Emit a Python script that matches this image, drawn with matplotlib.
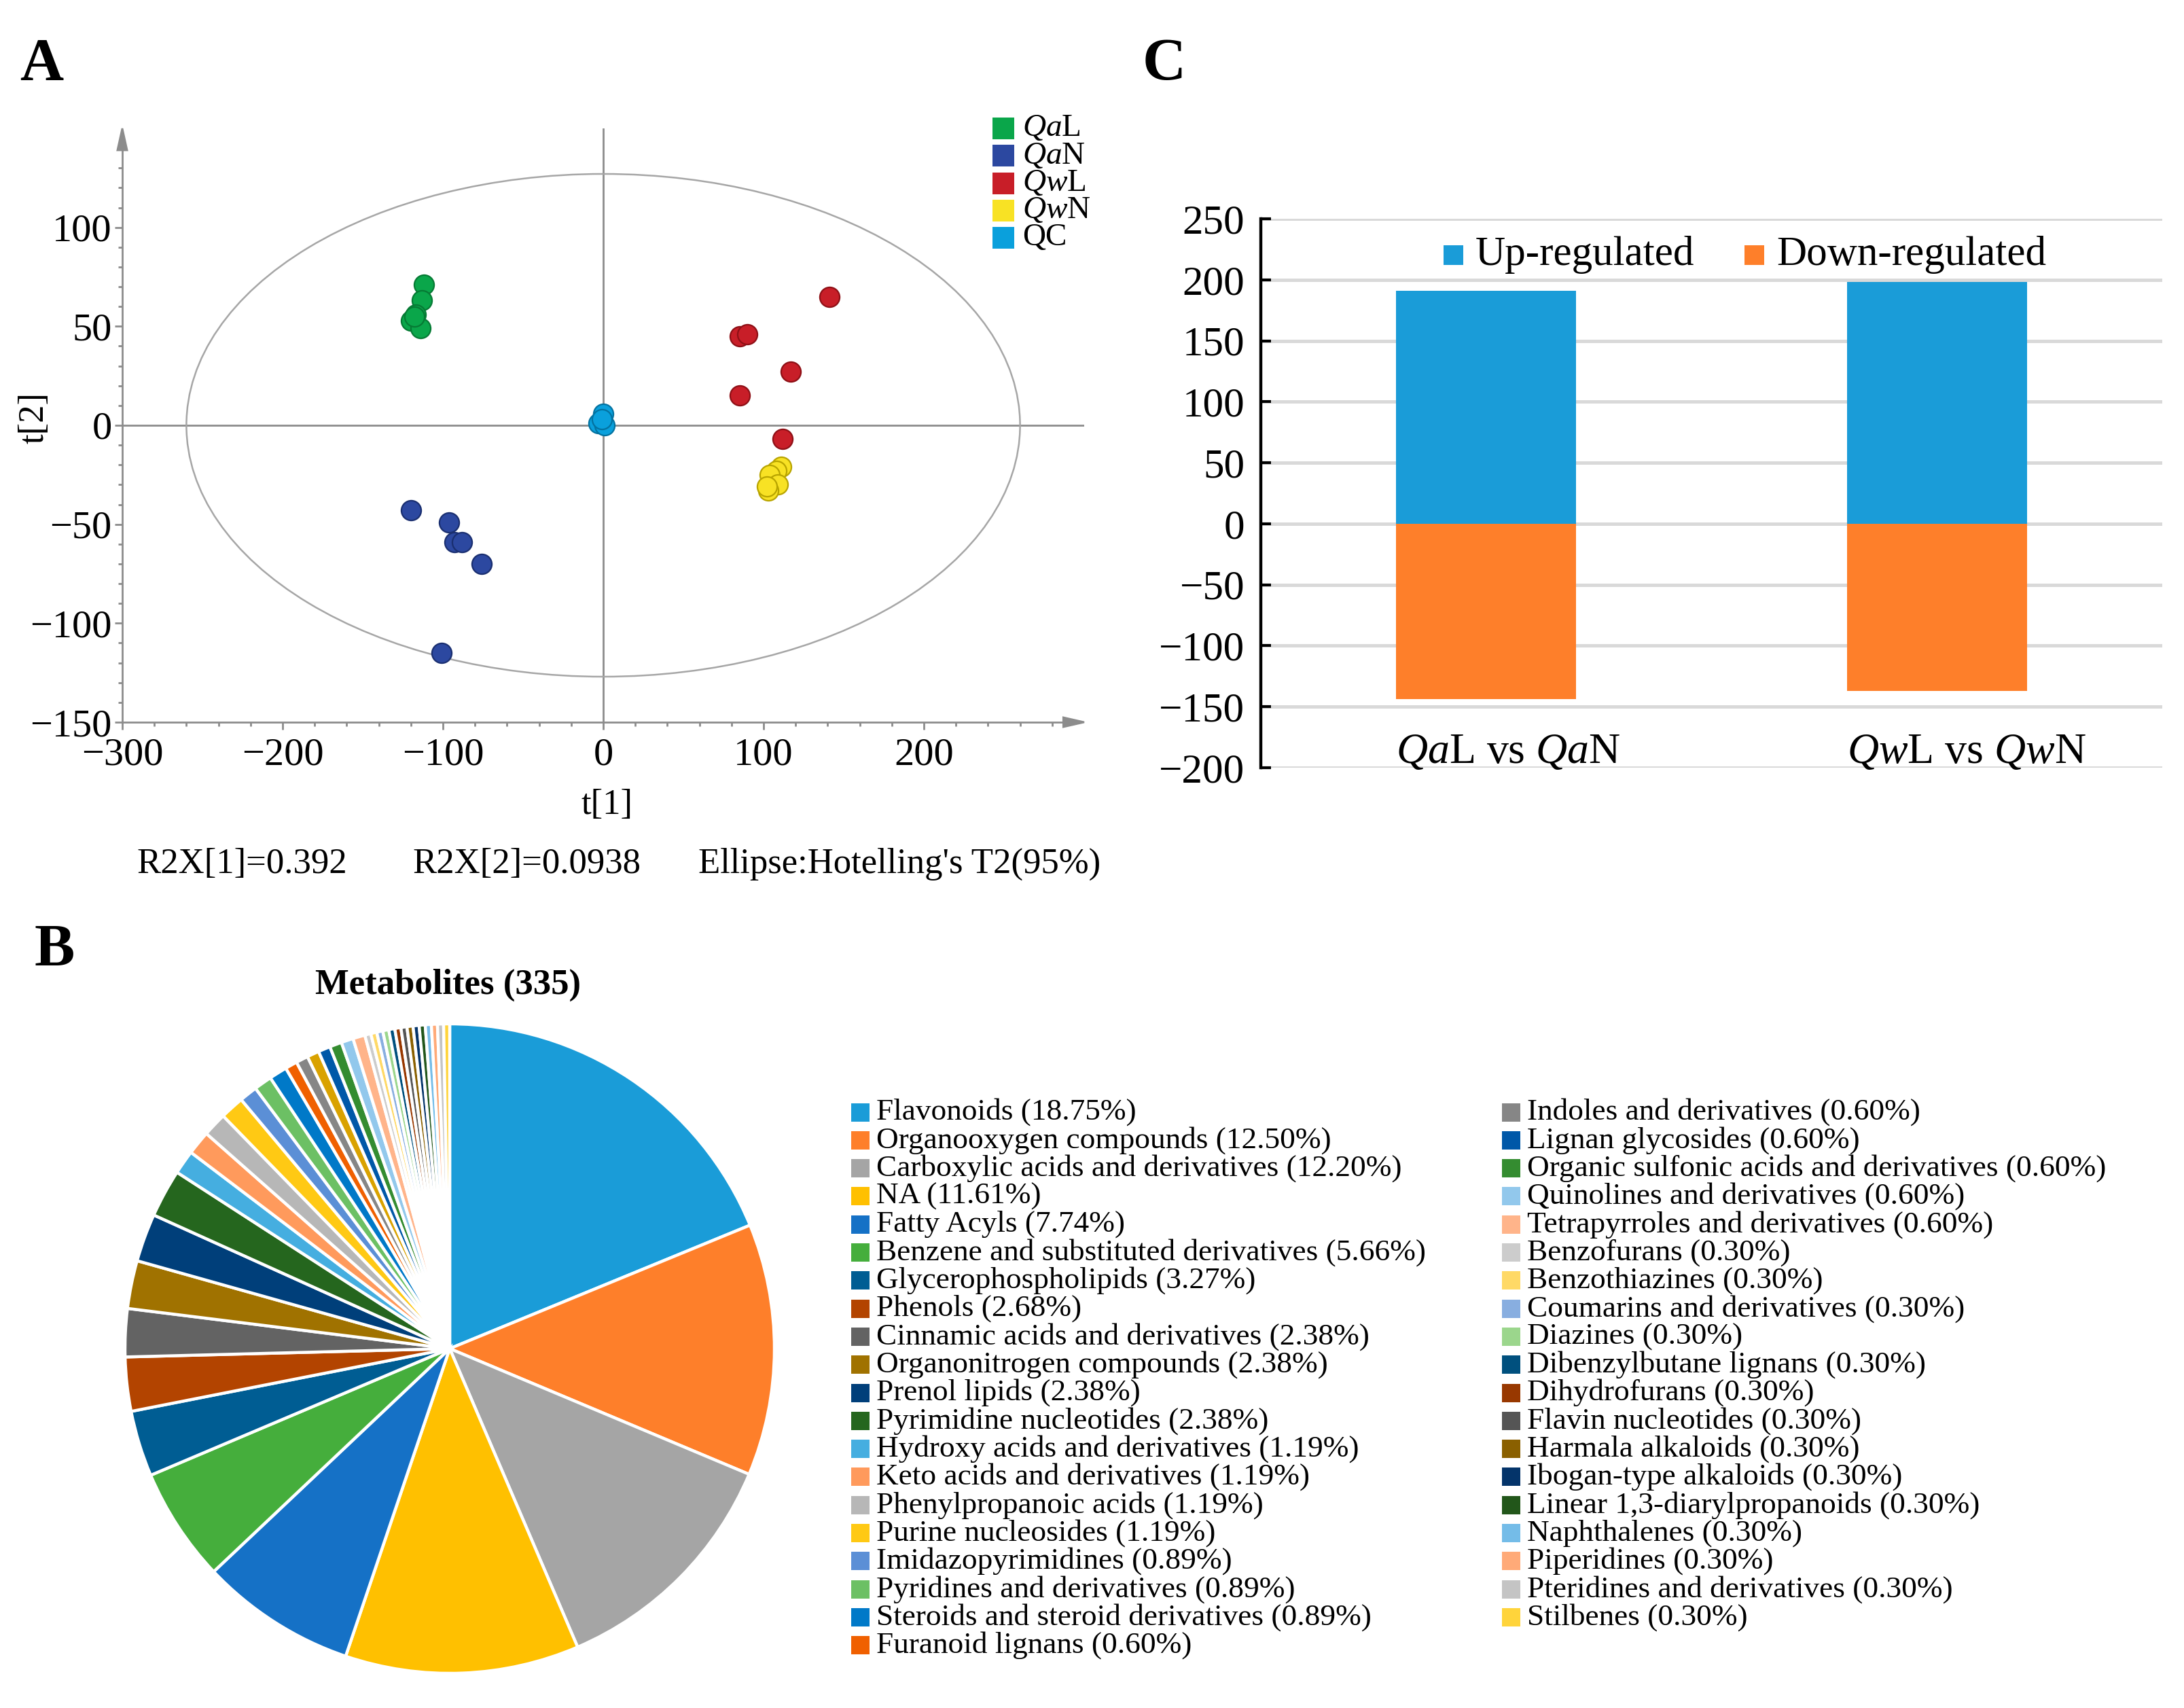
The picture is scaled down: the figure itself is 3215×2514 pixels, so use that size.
import numpy as np
import matplotlib.pyplot as plt
from matplotlib.patches import Ellipse, Rectangle, Polygon

plt.rcParams['font.family'] = ['Liberation Serif', 'DejaVu Serif']
plt.rcParams['mathtext.fontset'] = 'custom'
plt.rcParams['mathtext.rm'] = 'Liberation Serif'
plt.rcParams['mathtext.it'] = 'Liberation Serif:italic'

W, H, DPI = 3216, 2514, 200

# ---- panel A: PCA score plot ----
groups = [r'$\mathit{Qa}$L', r'$\mathit{Qa}$N', r'$\mathit{Qw}$L', r'$\mathit{Qw}$N', 'QC']
group_colors = ['#0aa64a', '#2c48a0', '#c81e28', '#f8e224', '#0aa0dc']
group_edges = ['#067a34', '#1a2f70', '#8e1016', '#b8a400', '#0372a0']
t1 = [
    [-112, -113, -117, -120, -114, -118],
    [-120, -96, -93, -88, -76, -101],
    [141, 85, 90, 117, 85, 112],
    [111, 108, 104, 109, 103, 102],
    [0, -3, 1, -1],
]
t2 = [
    [71, 63, 56, 53, 49, 55],
    [-43, -49, -59, -59, -70, -115],
    [65, 45, 46, 27, 15, -7],
    [-21, -23, -25, -30, -33, -31],
    [6, 1, 0, 3],
]
r2x = ['R2X[1]=0.392', 'R2X[2]=0.0938', "Ellipse:Hotelling's T2(95%)"]

# ---- panel B: metabolite classes ----
names = ['Flavonoids', 'Organooxygen compounds', 'Carboxylic acids and derivatives', 'NA',
         'Fatty Acyls', 'Benzene and substituted derivatives', 'Glycerophospholipids', 'Phenols',
         'Cinnamic acids and derivatives', 'Organonitrogen compounds', 'Prenol lipids',
         'Pyrimidine nucleotides', 'Hydroxy acids and derivatives', 'Keto acids and derivatives',
         'Phenylpropanoic acids', 'Purine nucleosides', 'Imidazopyrimidines',
         'Pyridines and derivatives', 'Steroids and steroid derivatives', 'Furanoid lignans',
         'Indoles and derivatives', '', 'Lignan glycosides',
         'Organic sulfonic acids and derivatives', 'Quinolines and derivatives',
         'Tetrapyrroles and derivatives', 'Benzofurans', 'Benzothiazines',
         'Coumarins and derivatives', 'Diazines', 'Dibenzylbutane lignans', 'Dihydrofurans',
         'Flavin nucleotides', 'Harmala alkaloids', 'Ibogan-type alkaloids',
         'Linear 1,3-diarylpropanoids', 'Naphthalenes', 'Piperidines',
         'Pteridines and derivatives', 'Stilbenes']
pct = [18.75, 12.50, 12.20, 11.61, 7.74, 5.66, 3.27, 2.68, 2.38, 2.38, 2.38, 2.38,
       1.19, 1.19, 1.19, 1.19, 0.89, 0.89, 0.89, 0.60, 0.60, 0.60, 0.60, 0.60, 0.60, 0.60,
       0.30, 0.30, 0.30, 0.30, 0.30, 0.30, 0.30, 0.30, 0.30, 0.30, 0.30, 0.30, 0.30, 0.30]
pie_colors = ['#1a9cd8', '#fe7f2a', '#a5a5a5', '#ffc000', '#1571c6', '#45ae3c', '#005d93',
              '#b34400', '#636363', '#a07200', '#003f7a', '#25661e', '#45aee0', '#ff9a5c',
              '#b7b7b7', '#ffc914', '#5b8fd6', '#6cc064', '#0079c8', '#f06000', '#868686',
              '#d9a200', '#0058a8', '#348c30', '#92c8ec', '#ffb48a', '#cccccc', '#ffd966',
              '#88aee0', '#9bd68c', '#00507e', '#983800', '#555555', '#8a6000', '#04346a',
              '#22561a', '#74bce8', '#ffaa78', '#c4c4c4', '#ffd43b']

# ---- panel C: differential metabolites ----
comparisons = [r'$\mathit{Qa}$L vs $\mathit{Qa}$N', r'$\mathit{Qw}$L vs $\mathit{Qw}$N']
up_counts = [191, 198]
down_counts = [-144, -137]


fig = plt.figure(figsize=(W / DPI, H / DPI), dpi=DPI)


def axes_px(l, t, r, b):
    return fig.add_axes([l / W, 1 - b / H, (r - l) / W, (b - t) / H])


def text_px(x, y, s, **kw):
    fig.text(x / W, 1 - y / H, s, **kw)


def square_px(x, y, size, color):
    fig.patches.append(Rectangle((x / W, 1 - (y + size / 2) / H), size / W, size / H,
                                 transform=fig.transFigure, facecolor=color,
                                 edgecolor='none'))


# ================= A =================
axA = axes_px(180, 189, 1596, 1063)
axA.set_xlim(-300, 300)
axA.set_ylim(-150, 150)
grey = '#8c8c8c'
axA.axhline(0, color=grey, lw=1.0, zorder=1)
axA.axvline(0, color=grey, lw=1.0, zorder=1)
axA.add_patch(Ellipse((0, 0), 520, 254, fill=False, edgecolor='#a6a6a6', lw=0.9, zorder=1))
for xs, ys, c, ec in zip(t1, t2, group_colors, group_edges):
    axA.scatter(xs, ys, s=110, color=c, edgecolors=ec, linewidths=0.8, zorder=3)

for side in ['top', 'right']:
    axA.spines[side].set_visible(False)
for side in ['left', 'bottom']:
    axA.spines[side].set_color(grey)
    axA.spines[side].set_linewidth(1.0)
axA.spines['left'].set_bounds(-150, 139)
axA.spines['bottom'].set_bounds(-300, 287)
axA.add_patch(Polygon([(-303, 139), (-297, 139), (-300, 150)], closed=True,
                      color=grey, clip_on=False))
axA.add_patch(Polygon([(287, -152.4), (287, -147.6), (300, -150)], closed=True,
                      color=grey, clip_on=False))
axA.set_xticks([-300, -200, -100, 0, 100, 200])
axA.set_xticks([v for v in range(-280, 290, 20) if v % 100], minor=True)
axA.set_yticks([-150, -100, -50, 0, 50, 100])
axA.set_yticks([v for v in range(-140, 140, 10) if v % 50], minor=True)
axA.tick_params(which='both', color=grey, width=1.0, direction='out')
axA.tick_params(which='major', length=4)
axA.tick_params(which='minor', length=2)
axA.tick_params(axis='x', which='major', labelsize=21, pad=4)
axA.tick_params(axis='y', which='major', labelsize=21, pad=1.5)

text_px(894, 1185, 't[1]', fontsize=19, ha='center', va='center')
text_px(51, 615, 't[2]', fontsize=19, ha='center', va='center', rotation=90)
for x0, s in zip([201, 607, 1028], r2x):
    text_px(x0, 1272, s, fontsize=19, ha='left', va='center')

for i, (g, c) in enumerate(zip(groups, group_colors)):
    y = 189 + i * 40.3
    square_px(1461, y, 32, c)
    text_px(1505, y, g, fontsize=17, ha='left', va='center')

text_px(29, 117, 'A', fontsize=32, fontweight='bold', ha='left', va='baseline')

# ================= C =================
axC = axes_px(1856, 322, 3183, 1130)
xpos = np.arange(len(comparisons))
bw = 0.4
axC.bar(xpos, up_counts, width=bw, color='#1a9cd8', zorder=2)
axC.bar(xpos, down_counts, width=bw, color='#fe7f2a', zorder=2)
axC.set_xlim(-0.5, 1.5)
axC.set_ylim(-200, 250)
axC.set_yticks(range(-200, 251, 50))
axC.set_xticks([])
axC.yaxis.grid(True, color='#d9d9d9', lw=1.8, zorder=0)
axC.set_axisbelow(True)
for side in ['top', 'right', 'bottom']:
    axC.spines[side].set_visible(False)
axC.spines['left'].set_linewidth(1.6)
axC.spines['left'].set_zorder(3)
axC.tick_params(axis='y', direction='in', length=5.5, width=1.5, labelsize=22, pad=8.5)
for xi, lab in zip(xpos, comparisons):
    axC.text(xi - bw / 2, -196, lab, fontsize=23, ha='left', va='baseline')

square_px(2125, 375, 29, '#1a9cd8')
text_px(2172, 375, 'Up-regulated', fontsize=22, ha='left', va='center')
square_px(2568, 375, 29, '#fe7f2a')
text_px(2615, 375, 'Down-regulated', fontsize=22, ha='left', va='center')

text_px(1682, 117, 'C', fontsize=32, fontweight='bold', ha='left', va='baseline')

# ================= B =================
axB = axes_px(184, 1507, 1140, 2463)
axB.pie(pct, colors=pie_colors, startangle=90, counterclock=False, radius=1,
        wedgeprops=dict(edgecolor='white', linewidth=1.6))
axB.set_xlim(-1, 1)
axB.set_ylim(-1, 1)
axB.set_aspect('equal')
axB.axis('off')

text_px(660, 1450, 'Metabolites (335)', fontsize=19, fontweight='bold',
        ha='center', va='center')
text_px(51, 1421, 'B', fontsize=32, fontweight='bold', ha='left', va='baseline')

labeled = [i for i, n in enumerate(names) if n]
for k, i in enumerate(labeled):
    col, row = divmod(k, 20)
    sq_x = 1253 if col == 0 else 2211
    y = 1637 + row * 41.3
    square_px(sq_x, y, 27, pie_colors[i])
    text_px(sq_x + 37, y, f'{names[i]} ({pct[i]:.2f}%)', fontsize=16.3,
            ha='left', va='center')

fig.savefig('out.png', dpi=DPI)
